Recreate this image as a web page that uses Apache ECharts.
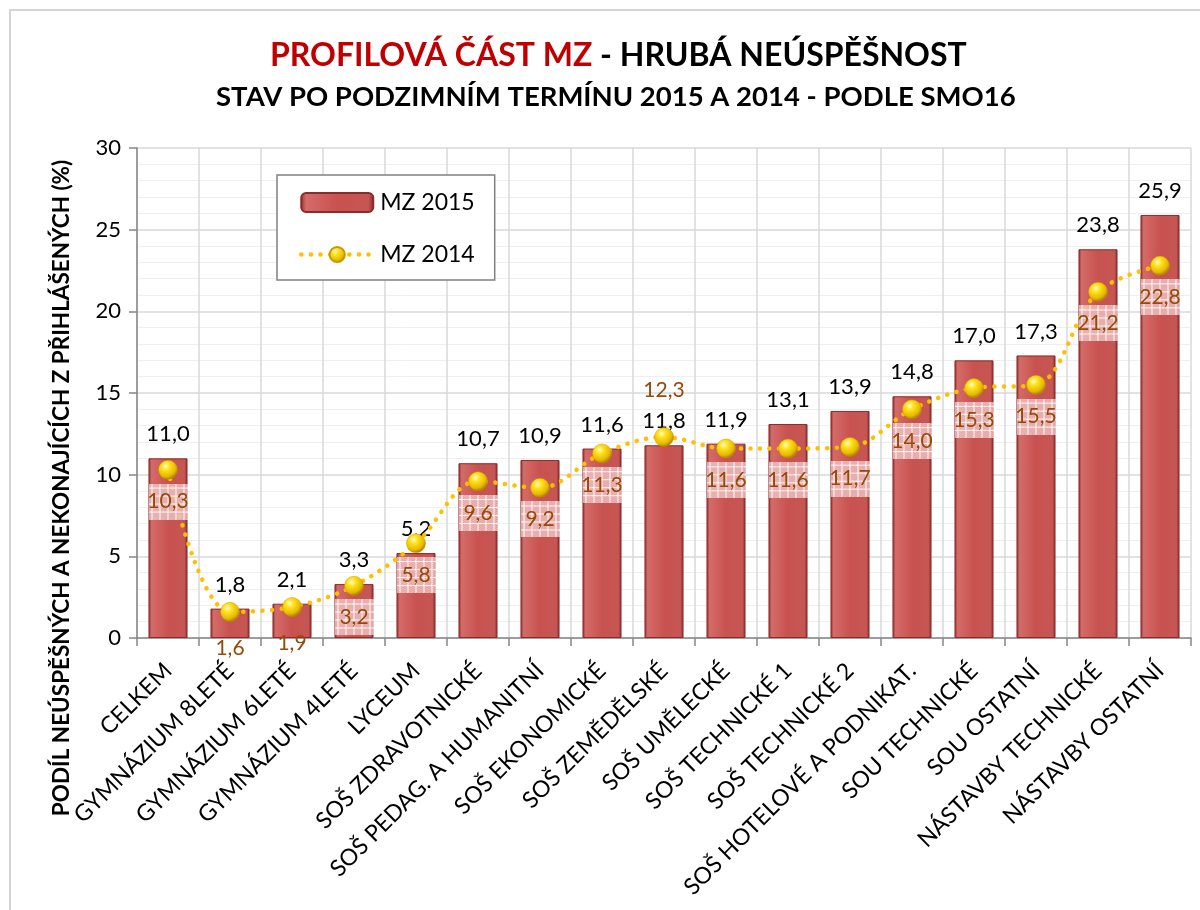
<!DOCTYPE html>
<html>
<head>
<meta charset="utf-8">
<script src="https://cdn.jsdelivr.net/npm/echarts@6/dist/echarts.min.js"></script>
<style>
html,body{margin:0;padding:0;background:#fff;}
#chart{width:1200px;height:910px;}
</style>
</head>
<body>
<div id="chart"></div>
<script>
const categories = ['CELKEM','GYMNÁZIUM 8LETÉ','GYMNÁZIUM 6LETÉ','GYMNÁZIUM 4LETÉ','LYCEUM','SOŠ ZDRAVOTNICKÉ','SOŠ PEDAG. A HUMANITNÍ','SOŠ EKONOMICKÉ','SOŠ ZEMĚDĚLSKÉ','SOŠ UMĚLECKÉ','SOŠ TECHNICKÉ 1','SOŠ TECHNICKÉ 2','SOŠ HOTELOVÉ A PODNIKAT.','SOU TECHNICKÉ','SOU OSTATNÍ','NÁSTAVBY TECHNICKÉ','NÁSTAVBY OSTATNÍ'];
const mz2015 = [11.0, 1.8, 2.1, 3.3, 5.2, 10.7, 10.9, 11.6, 11.8, 11.9, 13.1, 13.9, 14.8, 17.0, 17.3, 23.8, 25.9];
const mz2014 = [10.3, 1.6, 1.9, 3.2, 5.8, 9.6, 9.2, 11.3, 12.3, 11.6, 11.6, 11.7, 14.0, 15.3, 15.5, 21.2, 22.8];
const yTicks = [0, 5, 10, 15, 20, 25, 30];

const FONT = 'Lato';
const fmt = v => v.toFixed(1).replace('.', ',');

// band pattern behind MZ 2014 labels
const pat = document.createElement('canvas');
pat.width = 39; pat.height = 36;
(function(){
  const c = pat.getContext('2d');
  c.fillStyle = 'rgba(236,186,186,0.82)';
  c.fillRect(0,0,39,36);
  c.fillStyle = 'rgba(255,255,255,0.35)';
  for (let x = 0; x < 39; x += 2) for (let y = (x/2)%2; y < 36; y += 2) c.fillRect(x, y, 1, 1);
  c.fillStyle = 'rgba(255,255,255,0.85)';
  for (let x = 3; x < 39; x += 8) c.fillRect(x, 0, 1, 36);
  for (let y = 4; y < 36; y += 8) c.fillRect(0, y, 39, 1);
})();

const barGrad = new echarts.graphic.LinearGradient(0, 0, 1, 0, [
  {offset: 0, color: '#8e2d2b'},
  {offset: 0.08, color: '#d46b69'},
  {offset: 0.5, color: '#c8524f'},
  {offset: 0.92, color: '#c65654'},
  {offset: 1, color: '#862a28'}
]);
const sphere = new echarts.graphic.RadialGradient(0.38, 0.32, 0.7, [
  {offset: 0, color: '#fffbd0'},
  {offset: 0.3, color: '#ffe21a'},
  {offset: 0.75, color: '#e6b800'},
  {offset: 1, color: '#a07800'}
]);
const dotted = {color: '#ffc000', width: 4.5, type: [0.1, 9.5], cap: 'round'};

const lineData = mz2014.map((v, i) => {
  const item = {value: v};
  if (i === 8) {
    item.label = {position: 'top', distance: 19, backgroundColor: 'transparent'};
  } else if (i === 1 || i === 2) {
    item.label = {distance: 9, backgroundColor: 'transparent'};
  }
  return item;
});

const chart = echarts.init(document.getElementById('chart'), null, {renderer: 'canvas'});
chart.setOption({
  animation: false,
  backgroundColor: '#fff',
  textStyle: {fontFamily: FONT},
  title: [
    {
      text: '{r|PROFILOVÁ ČÁST MZ}{k| - HRUBÁ NEÚSPĚŠNOST}',
      left: 265, top: 35,
      textStyle: {
        rich: {
          r: {fontFamily: FONT, fontWeight: 'bold', fontSize: 32, color: '#c00000'},
          k: {fontFamily: FONT, fontWeight: 'bold', fontSize: 32, color: '#000'}
        }
      }
    },
    {
      text: 'STAV PO PODZIMNÍM TERMÍNU 2015 A 2014 - PODLE SMO16',
      left: 211, top: 78,
      textStyle: {fontFamily: FONT, fontWeight: 'bold', fontSize: 27.5, color: '#000'}
    }
  ],
  graphic: [
    {type: 'rect', shape: {x: 10, y: 10, width: 1300, height: 1000}, style: {fill: 'none', stroke: '#d4d4d4', lineWidth: 2}, z: -1, silent: true},
    {type: 'text', x: 62, y: 488, rotation: Math.PI / 2,
     style: {text: 'PODÍL NEÚSPĚŠNÝCH A NEKONAJÍCÍCH Z PŘIHLÁŠENÝCH (%)', fontFamily: FONT, fontWeight: 'bold', fontSize: 22.5, fill: '#000', align: 'center', verticalAlign: 'middle'}}
  ],
  legend: {
    orient: 'vertical',
    left: 277, top: 175,
    padding: [16, 20, 14, 22],
    itemGap: 29,
    itemWidth: 72, itemHeight: 19,
    borderColor: '#808080', borderWidth: 1.5,
    backgroundColor: '#fff',
    textStyle: {fontFamily: FONT, fontSize: 23, color: '#000', padding: [0, 0, 0, 2]},
    data: [
      {name: 'MZ 2015'},
      {name: 'MZ 2014', lineStyle: {color: '#ffc000', width: 4.5, type: [0.1, 9.5], cap: 'round'}}
    ]
  },
  grid: {left: 137, right: 9, top: 148, bottom: 272, containLabel: false},
  xAxis: {
    type: 'category',
    data: categories,
    axisLine: {lineStyle: {color: '#868686', width: 1.5}},
    axisTick: {show: true, length: 8, lineStyle: {color: '#868686', width: 1.5}},
    splitLine: {show: true, lineStyle: {color: '#d9d9d9', width: 1.5}},
    axisLabel: {rotate: 45, margin: 29, interval: 0, fontFamily: FONT, fontSize: 23, color: '#000'}
  },
  yAxis: {
    type: 'value',
    min: yTicks[0], max: yTicks[yTicks.length - 1], interval: 5,
    axisLine: {show: true, lineStyle: {color: '#868686', width: 1.5}},
    axisTick: {show: true, length: 8, lineStyle: {color: '#868686', width: 1.5}},
    axisLabel: {margin: 16, fontFamily: FONT, fontSize: 22, color: '#000'},
    splitLine: {show: true, lineStyle: {color: '#d9d9d9', width: 1.5}},
    minorTick: {show: false, splitNumber: 5},
    minorSplitLine: {show: true, lineStyle: {color: '#efefef', width: 1}}
  },
  series: [
    {
      name: 'MZ 2015',
      type: 'bar',
      data: mz2015,
      barCategoryGap: '37%',
      itemStyle: {color: barGrad, borderColor: '#8a2c2a', borderWidth: 1},
      label: {show: true, position: 'top', distance: 13, fontFamily: FONT, fontSize: 22, color: '#000', formatter: p => fmt(p.value)},
      z: 2
    },
    {
      name: 'MZ 2014',
      type: 'line',
      data: lineData,
      smooth: 0.35,
      symbol: 'circle',
      symbolSize: 19,
      itemStyle: {color: sphere, borderColor: '#c89a00', borderWidth: 0.5},
      lineStyle: dotted,
      label: {
        show: true, position: 'bottom', distance: 4,
        fontFamily: FONT, fontSize: 21, color: '#984807',
        width: 39, height: 36, lineHeight: 36,
        backgroundColor: {image: pat},
        formatter: p => fmt(p.value)
      },
      z: 3
    }
  ]
});
</script>
</body>
</html>
